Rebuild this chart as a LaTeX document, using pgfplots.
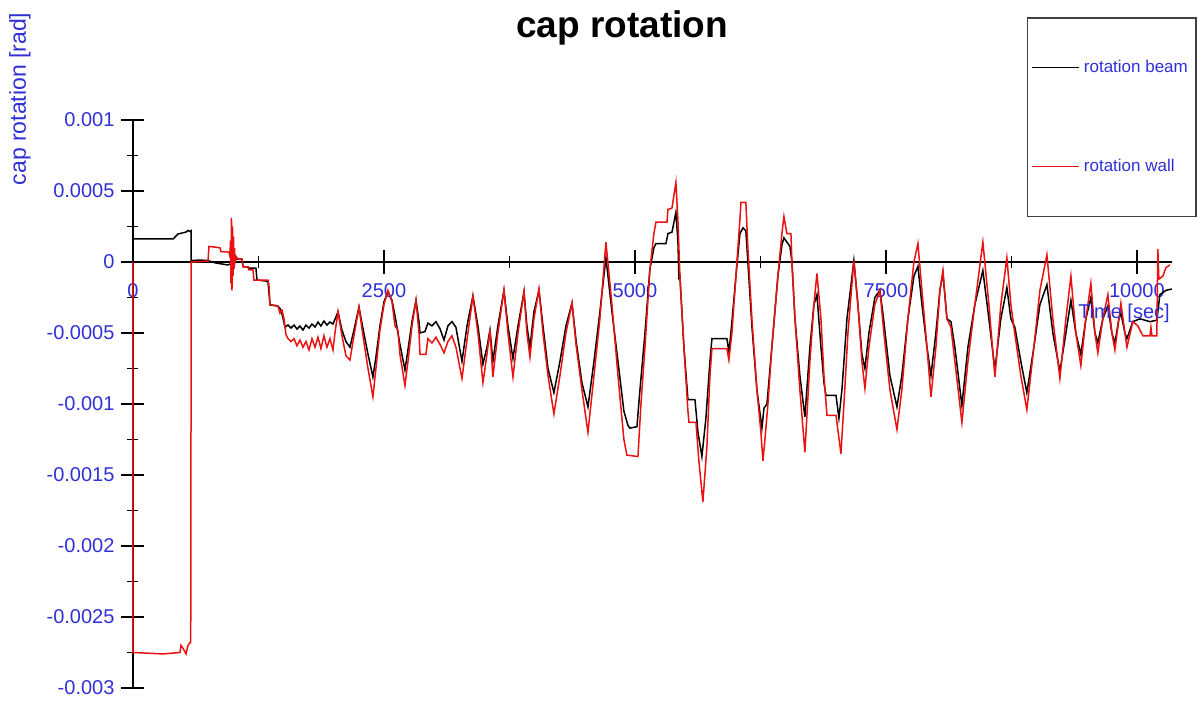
\documentclass[border=0pt]{standalone}
\usepackage{fontspec}
\setmainfont{Liberation Sans}
\usepackage{pgfplots}
\pgfplotsset{compat=1.18}
\definecolor{lblue}{RGB}{48,48,215}
\definecolor{wallred}{RGB}{236,16,16}

% rotation of the beam end (t [s], rotation [rad])
\pgfplotstableread{
t y
0 0.000162
400 0.000162
428 0.000183
448 0.000197
488 0.000204
528 0.000211
548 0.000222
568 0.000215
578 0.00022
580 0.00001
667 0.000014
747 0.00001
787 0
827 -0.000007
886 -0.000014
946 -0.000021
986 -0.000007
1026 0.000021
1086 0.000021
1096 -0.000033
1145 -0.000035
1155 -0.000044
1225 -0.000044
1235 -0.000127
1325 -0.000134
1345 -0.00014
1365 -0.000303
1444 -0.00031
1474 -0.000338
1494 -0.000394
1514 -0.000458
1544 -0.000444
1574 -0.000465
1604 -0.000444
1633 -0.000472
1663 -0.000451
1693 -0.000479
1723 -0.000444
1753 -0.000465
1783 -0.000437
1813 -0.000458
1843 -0.000423
1872 -0.000451
1902 -0.000416
1932 -0.000444
1962 -0.000423
1992 -0.000437
2042 -0.000352
2082 -0.00048
2121 -0.00056
2161 -0.0006
2201 -0.00048
2251 -0.000317
2291 -0.00047
2341 -0.00065
2390 -0.00081
2420 -0.00067
2460 -0.00045
2500 -0.00028
2540 -0.00021
2580 -0.00027
2610 -0.00038
2659 -0.00058
2709 -0.00076
2739 -0.00062
2779 -0.00042
2819 -0.00027
2849 -0.00042
2859 -0.0005
2908 -0.00049
2938 -0.00043
2978 -0.00045
3018 -0.00042
3058 -0.00047
3098 -0.00055
3137 -0.00045
3177 -0.00042
3217 -0.00046
3277 -0.0007
3327 -0.00045
3386 -0.00024
3436 -0.00045
3486 -0.00072
3526 -0.0006
3556 -0.00048
3585 -0.0007
3635 -0.00045
3695 -0.0002
3735 -0.00045
3785 -0.00068
3835 -0.00045
3895 -0.00021
3924 -0.00045
3954 -0.0006
3994 -0.00035
4044 -0.0002
4084 -0.00045
4134 -0.00075
4193 -0.00092
4253 -0.0007
4313 -0.00045
4373 -0.00029
4413 -0.00055
4472 -0.00085
4532 -0.00102
4592 -0.0007
4651 -0.00035
4711 0.00003
4771 -0.00035
4831 -0.0007
4890 -0.00105
4930 -0.00115
4950 -0.00117
5020 -0.00116
5050 -0.0009
5100 -0.0005
5149 -0.00005
5189 0.0001
5209 0.00013
5309 0.00013
5329 0.0002
5369 0.00021
5408 0.00035
5428 0.00015
5438 -0.00011
5448 -0.0001
5488 -0.0006
5528 -0.00097
5598 -0.00097
5628 -0.0012
5667 -0.00137
5707 -0.0011
5747 -0.0007
5767 -0.00054
5916 -0.00054
5936 -0.00063
5956 -0.0005
6006 -0.0001
6046 0.0002
6076 0.00024
6105 0.00022
6125 0.0
6165 -0.00045
6215 -0.0009
6265 -0.00117
6285 -0.00103
6315 -0.001
6364 -0.0006
6424 -0.0001
6464 0.00012
6484 0.00017
6544 0.00011
6564 0.0
6594 -0.0004
6643 -0.0008
6693 -0.00109
6743 -0.0006
6783 -0.0003
6813 -0.00023
6853 -0.0006
6883 -0.00085
6903 -0.00094
7003 -0.00094
7032 -0.0011
7062 -0.0009
7112 -0.0004
7181 0.00001
7221 -0.0003
7261 -0.00065
7291 -0.00075
7331 -0.0005
7390 -0.00025
7440 -0.0002
7470 -0.00036
7540 -0.0008
7610 -0.00102
7659 -0.0008
7719 -0.0004
7779 -0.0001
7819 -0.00003
7859 -0.0003
7909 -0.0006
7949 -0.0008
7998 -0.0005
8038 -0.0002
8068 -0.00008
8108 -0.0004
8148 -0.00042
8187 -0.0006
8257 -0.00101
8317 -0.0006
8386 -0.0003
8466 -0.00006
8526 -0.0004
8586 -0.00076
8645 -0.0004
8705 -0.00018
8745 -0.0004
8785 -0.00046
8844 -0.0007
8904 -0.00092
8974 -0.0006
9034 -0.0003
9104 -0.00016
9163 -0.0005
9233 -0.00077
9293 -0.0005
9343 -0.00027
9392 -0.0005
9442 -0.00065
9492 -0.0004
9542 -0.00025
9582 -0.0005
9611 -0.00057
9661 -0.0004
9711 -0.00031
9751 -0.0005
9781 -0.00057
9821 -0.0004
9841 -0.00036
9881 -0.0005
9901 -0.00054
9960 -0.00042
10030 -0.0004
10130 -0.00042
10199 -0.00041
10229 -0.00023
10289 -0.0002
10348 -0.00019
}\beamdata

% rotation of the wall end (t [s], rotation [rad])
\pgfplotstableread{
t y
0 0
0 -0.00275
300 -0.00276
468 -0.00275
478 -0.0027
498 -0.00272
528 -0.00276
548 -0.0027
568 -0.00268
575 -0.00268
580 0
667 0.000003
747 0.000005
757 0.00011
817 0.000105
867 0.0001
876 0.000073
956 0.00007
966 0.00004
971 0.00015
976 -0.00015
981 0.00031
986 -0.0002
991 0.00025
996 -0.0001
1001 0.00018
1006 -0.00005
1011 0.0001
1016 0.0
1026 0.00004
1046 0.00002
1086 0.00002
1096 -0.000035
1145 -0.000035
1155 -0.000056
1195 -0.000056
1205 -0.000127
1345 -0.000127
1355 -0.00017
1365 -0.0003
1444 -0.00031
1464 -0.00036
1484 -0.00034
1504 -0.0004
1524 -0.00051
1544 -0.00054
1574 -0.00056
1604 -0.00054
1633 -0.00059
1663 -0.00055
1693 -0.0006
1723 -0.00056
1753 -0.00062
1783 -0.00054
1813 -0.0006
1843 -0.00053
1872 -0.00061
1902 -0.00052
1932 -0.0006
1962 -0.00054
1992 -0.00062
2012 -0.0005
2042 -0.00035
2082 -0.00052
2121 -0.00066
2161 -0.00069
2201 -0.00052
2251 -0.00032
2291 -0.00052
2341 -0.00075
2390 -0.00095
2420 -0.00075
2460 -0.00048
2500 -0.0003
2540 -0.0002
2580 -0.00028
2610 -0.00045
2639 -0.00048
2659 -0.00065
2709 -0.00087
2739 -0.0007
2779 -0.00045
2819 -0.00027
2849 -0.0005
2859 -0.00065
2918 -0.00065
2938 -0.00054
2978 -0.00057
3018 -0.00053
3058 -0.00058
3098 -0.00064
3137 -0.00056
3177 -0.00052
3217 -0.0006
3277 -0.00082
3327 -0.00055
3386 -0.00024
3436 -0.0005
3486 -0.00085
3526 -0.00065
3556 -0.00048
3585 -0.00081
3635 -0.0005
3695 -0.0002
3735 -0.0005
3785 -0.00081
3835 -0.0005
3895 -0.00021
3924 -0.0005
3954 -0.00067
3994 -0.0004
4044 -0.00019
4084 -0.0005
4134 -0.0008
4193 -0.00107
4253 -0.0008
4313 -0.0005
4373 -0.00029
4413 -0.00058
4472 -0.0009
4532 -0.0012
4592 -0.0008
4651 -0.0004
4711 0.00014
4771 -0.0003
4831 -0.0008
4890 -0.00125
4920 -0.00136
5030 -0.00137
5060 -0.001
5100 -0.0006
5149 -0.00005
5189 0.0002
5209 0.00028
5319 0.00028
5329 0.00037
5369 0.00038
5408 0.00056
5428 0.0003
5448 -0.0001
5488 -0.0006
5528 -0.00105
5538 -0.00113
5608 -0.00113
5637 -0.0014
5677 -0.00169
5717 -0.0013
5747 -0.0008
5767 -0.00061
5916 -0.00061
5936 -0.00069
5966 -0.0005
6006 -0.0001
6046 0.0003
6056 0.00042
6105 0.00042
6125 0.0001
6165 -0.0004
6215 -0.0009
6255 -0.0012
6275 -0.0014
6295 -0.00125
6325 -0.001
6364 -0.0006
6424 -0.0001
6464 0.0002
6484 0.00032
6514 0.0002
6554 0.0002
6564 0.0
6594 -0.0004
6643 -0.0009
6693 -0.00134
6743 -0.0007
6783 -0.0003
6813 -0.00008
6853 -0.0004
6883 -0.0008
6913 -0.00108
7003 -0.00108
7052 -0.00135
7082 -0.001
7122 -0.0005
7181 0.00001
7221 -0.0003
7261 -0.0007
7291 -0.00089
7331 -0.0006
7390 -0.0003
7440 -0.0002
7480 -0.0005
7540 -0.0009
7610 -0.00118
7659 -0.0009
7719 -0.0004
7779 0.0
7819 0.00013
7859 -0.0002
7909 -0.0006
7949 -0.00095
7998 -0.0006
8038 -0.0002
8068 -0.00006
8108 -0.0004
8148 -0.00046
8187 -0.0007
8257 -0.00113
8317 -0.0007
8386 -0.0003
8466 0.00014
8526 -0.0003
8586 -0.00081
8645 -0.0003
8705 0.00003
8745 -0.0003
8775 -0.00046
8844 -0.0008
8904 -0.00104
8974 -0.0006
9034 -0.0002
9104 0.00005
9163 -0.0004
9233 -0.00082
9293 -0.0004
9343 -0.0001
9392 -0.0005
9442 -0.00073
9492 -0.0004
9542 -0.00015
9582 -0.0005
9611 -0.00064
9661 -0.0004
9711 -0.00023
9751 -0.0005
9781 -0.00062
9821 -0.0004
9841 -0.00029
9881 -0.0005
9901 -0.0006
9960 -0.00042
10010 -0.00045
10060 -0.00052
10130 -0.00052
10140 -0.00046
10150 -0.00052
10199 -0.00052
10209 0.00009
10219 -0.00012
10259 -0.0001
10289 -0.00004
10329 -0.00002
}\walldata

\begin{document}
\begin{tikzpicture}
\begin{axis}[
  name=ax,
  scale only axis,
  width=519.5pt, height=284pt,
  xmin=0, xmax=10350,
  ymin=-0.003, ymax=0.001,
  clip=false,
  axis x line=middle,
  axis y line=left,
  axis line style={-, black, line width=0.65pt},
  hide obscured x ticks=false,
  hide obscured y ticks=false,
  scaled x ticks=false,
  scaled y ticks=false,
  xtick={0,2500,5000,7500,10000},
  xticklabels={0,2500,5000,7500,10000},
  ytick={-0.003,-0.0025,-0.002,-0.0015,-0.001,-0.0005,0,0.0005,0.001},
  yticklabels={-0.003,-0.0025,-0.002,-0.0015,-0.001,-0.0005,0,0.0005,0.001},
  minor tick num=1,
  tick align=center,
  major tick length=11.5pt,
  minor tick length=5.5pt,
  tick style={black, line width=0.65pt},
  ticklabel style={font=\fontsize{10}{12}\selectfont, text=lblue},
  xticklabel style={yshift=-1.5pt},
  every axis title/.style={at={(axis description cs:0.4707,1.1444)}, anchor=base,
    font=\fontsize{18.5}{22}\selectfont\bfseries},
  title={cap rotation},
  every axis y label/.style={at={(axis description cs:-0.1088,1.037)}, anchor=center,
    rotate=90, font=\fontsize{11.5}{13}\selectfont, text=lblue},
  ylabel={cap rotation [rad]},
  every axis x label/.style={at={(axis description cs:0.9538,0.6602)}, anchor=center,
    font=\fontsize{10}{12}\selectfont, text=lblue},
  xlabel={Time [sec]},
  legend style={at={(axis description cs:0.8604,1.1813)}, anchor=north west,
    draw=black!75, line width=0.75pt, fill=white,
    font=\fontsize{8.5}{10}\selectfont, text=lblue,
    inner xsep=2pt, inner ysep=19pt, row sep=38pt,
    nodes={inner xsep=2pt},
    cells={anchor=west}},
  legend image code/.code={\draw[#1, line width=0.6pt] (0pt,0pt) -- (23.5pt,0pt);},
]
\addplot[black, line width=0.75pt] table[x=t, y=y] {\beamdata};
\addlegendentry{rotation beam}
\addplot[wallred, line width=0.75pt] table[x=t, y=y] {\walldata};
\addlegendentry{rotation wall}
\end{axis}
\pgfresetboundingbox
\path[use as bounding box] ([shift={(-66.5pt,-7pt)}]ax.south west)
  rectangle ([shift={(533pt,344pt)}]ax.south west);
\end{tikzpicture}
\end{document}
